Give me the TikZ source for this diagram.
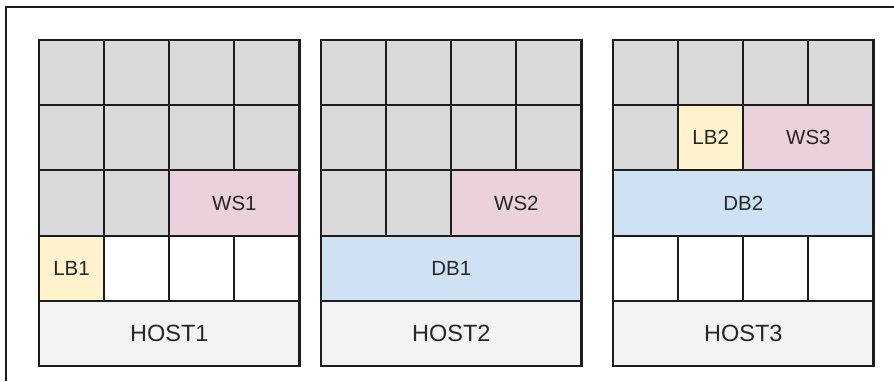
\documentclass[tikz,border=0pt]{standalone}
\usepackage{fontspec}
\setmainfont{Liberation Sans}
\definecolor{cellgray}{HTML}{D9D9D9}
\definecolor{hostgray}{HTML}{F3F3F3}
\definecolor{wspink}{HTML}{EAD1DC}
\definecolor{lbyellow}{HTML}{FFF2CC}
\definecolor{dbblue}{HTML}{CFE2F3}
\definecolor{edge}{HTML}{1C1C1C}
\definecolor{ink}{HTML}{262626}
% grid metrics
\newcommand\cw{65.125}
\newcommand\ch{65.2}
\newcommand\gtop{40}
% \slot{host x}{col}{row}{span}{fill}{name}{text}
\newcommand\slot[7]{%
  \node[slotbox, fill=#5, minimum width={#4*\cw}] (#6)
    at ({#1+#2*\cw},{\gtop+#3*\ch}) {#7};}
\begin{document}
\begin{tikzpicture}[x=1pt,y=-1pt,
  slotbox/.style={draw=edge, line width=2.1pt, rectangle, inner sep=0pt,
    outer sep=0pt, anchor=north west, minimum height=\ch,
    text=ink, font=\fontsize{20.5}{24}\selectfont},
  hostbox/.style={slotbox, font=\fontsize{23.5}{28}\selectfont}]
\useasboundingbox (0,0) rectangle (894,381);
\fill[white] (0,0) rectangle (894,381);

% outer frame (runs off the right and bottom edges)
\coordinate (frameBL) at (6,381);
\coordinate (frameTL) at (6,7);
\coordinate (frameTR) at (894,7);
\draw[edge, line width=2pt] (frameBL) -- (frameTL) -- (frameTR);

% ---------- HOST1 ----------
\foreach \r in {0,1}{\foreach \c in {0,...,3}{\slot{39}{\c}{\r}{1}{cellgray}{a\r\c}{}}}
\slot{39}{0}{2}{1}{cellgray}{a20}{}
\slot{39}{1}{2}{1}{cellgray}{a21}{}
\slot{39}{2}{2}{2}{wspink}{ws1}{WS1}
\slot{39}{0}{3}{1}{lbyellow}{lb1}{LB1}
\foreach \c in {1,2,3}{\slot{39}{\c}{3}{1}{white}{a3\c}{}}
\node[hostbox, fill=hostgray, minimum width={4*\cw}] (host1)
  at (39,{\gtop+4*\ch}) {HOST1};

% ---------- HOST2 ----------
\foreach \r in {0,1}{\foreach \c in {0,...,3}{\slot{321}{\c}{\r}{1}{cellgray}{b\r\c}{}}}
\slot{321}{0}{2}{1}{cellgray}{b20}{}
\slot{321}{1}{2}{1}{cellgray}{b21}{}
\slot{321}{2}{2}{2}{wspink}{ws2}{WS2}
\slot{321}{0}{3}{4}{dbblue}{db1}{DB1}
\node[hostbox, fill=hostgray, minimum width={4*\cw}] (host2)
  at (321,{\gtop+4*\ch}) {HOST2};

% ---------- HOST3 ----------
\foreach \c in {0,...,3}{\slot{613}{\c}{0}{1}{cellgray}{c0\c}{}}
\slot{613}{0}{1}{1}{cellgray}{c10}{}
\slot{613}{1}{1}{1}{lbyellow}{lb2}{LB2}
\slot{613}{2}{1}{2}{wspink}{ws3}{WS3}
\slot{613}{0}{2}{4}{dbblue}{db2}{DB2}
\foreach \c in {0,...,3}{\slot{613}{\c}{3}{1}{white}{c3\c}{}}
\node[hostbox, fill=hostgray, minimum width={4*\cw}] (host3)
  at (613,{\gtop+4*\ch}) {HOST3};
\end{tikzpicture}
\end{document}
